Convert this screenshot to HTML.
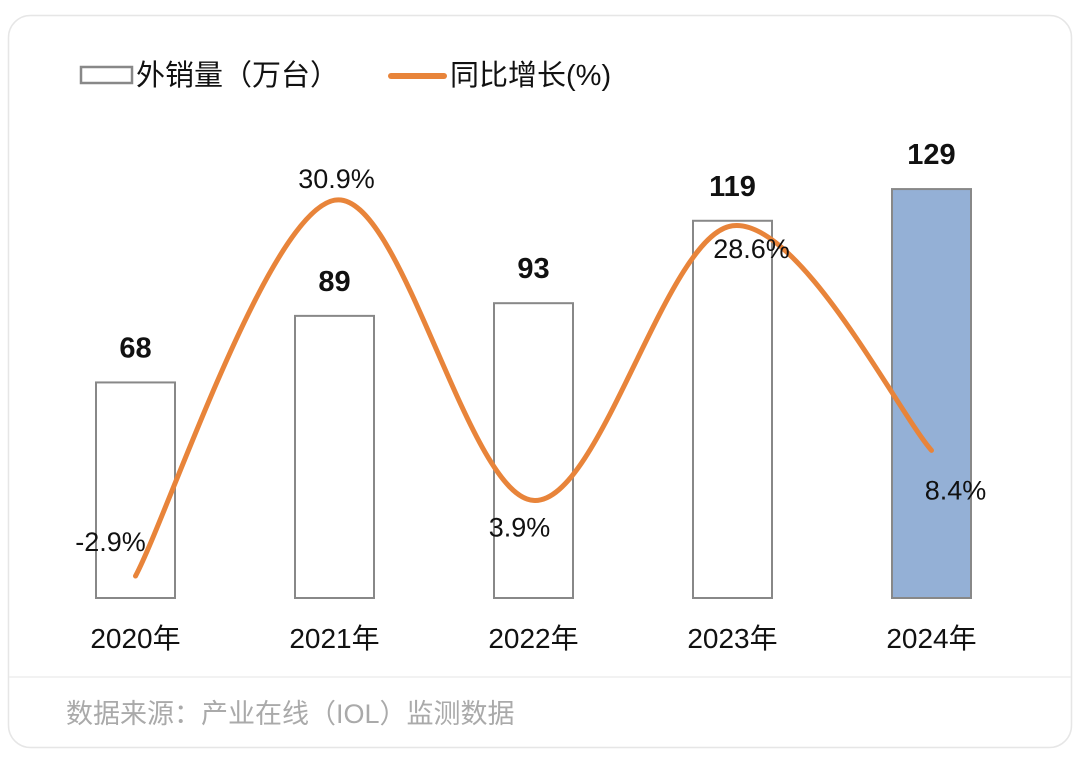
<!DOCTYPE html>
<html><head><meta charset="utf-8"><style>
html,body{margin:0;padding:0;background:#fff;}
body{width:1080px;height:762px;overflow:hidden;font-family:"Liberation Sans","Noto Sans CJK SC",sans-serif;}
</style></head><body>
<svg id="chart" width="1080" height="762" xmlns="http://www.w3.org/2000/svg" font-family="Liberation Sans, Noto Sans CJK SC, sans-serif">
<rect x="8.5" y="15.5" width="1063" height="732" rx="22" fill="#fff" stroke="#e6e6e6" stroke-width="1.5"/>
<g>
<rect x="81" y="67" width="51" height="16" fill="#fff" stroke="#888" stroke-width="2.5"/>
<text x="136" y="85" font-size="29" fill="#111">外销量（万台）</text>
<line x1="391" y1="76" x2="444" y2="76" stroke="#e8843a" stroke-width="6" stroke-linecap="round"/>
<text x="450" y="85" font-size="29" fill="#111">同比增长(%)</text>
</g>
<g id="bars"></g>
<g id="line"></g>
<g id="labels"></g>
<line x1="9" y1="677" x2="1071" y2="677" stroke="#eeeeee" stroke-width="1.5"/>
<text x="66" y="723" font-size="27" fill="#aaa">数据来源：产业在线（IOL）监测数据</text>
</svg>
<script>
const categories=["2020年","2021年","2022年","2023年","2024年"];
const volumes=[68,89,93,119,129];
const growth=[-2.9,30.9,3.9,28.6,8.4];
const volumeLabels=["68","89","93","119","129"];
const growthLabels=["-2.9%","30.9%","3.9%","28.6%","8.4%"];
const NS="http://www.w3.org/2000/svg";
function xC(i){return 135.5+i*199;}
function yV(v){return 598-v*3.17;}
function yG(g){return 543.8-g*11.12;}
function mk(tag,attrs,parent){const e=document.createElementNS(NS,tag);for(const k in attrs)e.setAttribute(k,attrs[k]);parent.appendChild(e);return e;}
const bars=document.getElementById('bars'),line=document.getElementById('line'),labels=document.getElementById('labels');
categories.forEach((c,i)=>{
  const last=i===categories.length-1;
  const r=mk('rect',{x:xC(i)-39.5,y:yV(volumes[i]),width:79,height:598-yV(volumes[i]),fill:last?'#94b0d6':'#fff',stroke:'#888','stroke-width':2},bars);
  
  
  const t=mk('text',{x:xC(i),y:yV(volumes[i])-25,'font-size':29,'font-weight':'bold','text-anchor':'middle',fill:'#111'},labels);
  t.textContent=volumeLabels[i];
  
  
  const xl=mk('text',{x:xC(i),y:648,'font-size':28,'text-anchor':'middle',fill:'#111'},labels);
  xl.textContent=c;
  
  
});
const pts=growth.map((g,i)=>[xC(i),yG(g)]);
let d='M'+pts[0][0]+','+pts[0][1];
for(let i=0;i<pts.length-1;i++){
  const p0=pts[Math.max(0,i-1)],p1=pts[i],p2=pts[i+1],p3=pts[Math.min(pts.length-1,i+2)];
  const t=6;
  const c1=[p1[0]+(p2[0]-p0[0])/t,p1[1]+(p2[1]-p0[1])/t];
  const c2=[p2[0]-(p3[0]-p1[0])/t,p2[1]-(p3[1]-p1[1])/t];
  d+=` C${c1[0]},${c1[1]} ${c2[0]},${c2[1]} ${p2[0]},${p2[1]}`;
}
const path=mk('path',{d:d,fill:'none',stroke:'#e8843a','stroke-width':5,'stroke-linecap':'round'},line);


const off=[[-25,-34],[2,-21],[-14,27],[19,23],[24,40]];
growth.forEach((g,i)=>{
  const t=mk('text',{x:xC(i)+off[i][0],y:yG(g)+off[i][1]+9,'font-size':27,'text-anchor':'middle',fill:'#111'},labels);
  t.textContent=growthLabels[i];
  
  
});
</script>
</body></html>
